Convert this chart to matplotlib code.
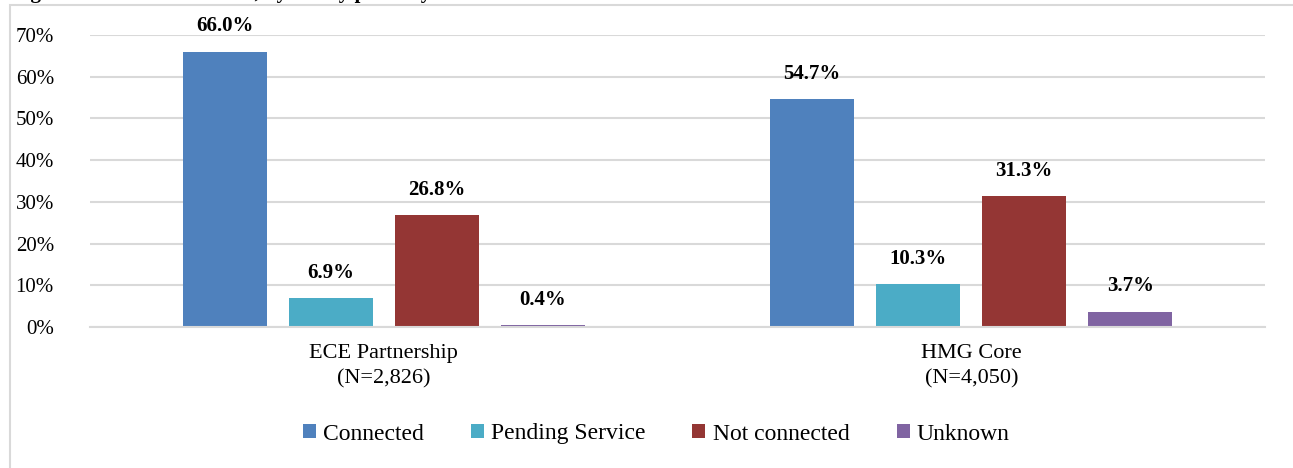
import matplotlib
matplotlib.use("Agg")
import matplotlib.pyplot as plt
import numpy as np
from matplotlib.patches import Rectangle
from matplotlib.ticker import PercentFormatter

plt.rcParams["font.family"] = ["Liberation Serif", "DejaVu Serif"]

groups = ["ECE Partnership\n(N=2,826)", "HMG Core\n(N=4,050)"]
series = ["Connected", "Pending Service", "Not connected", "Unknown"]
connected = [66.0, 54.7]
pending = [6.9, 10.3]
not_connected = [26.8, 31.3]
unknown = [0.4, 3.7]
colors = ["#4f81bd", "#4bacc6", "#943634", "#8064a2"]

values = [connected, pending, not_connected, unknown]

fig = plt.figure(figsize=(12.93, 4.68), dpi=100)
# outer chart frame (partly outside the picture)
fig.patches.append(Rectangle((10 / 1293, -0.05), 1.2, (468 - 5) / 468 + 0.05,
                             transform=fig.transFigure, fill=False,
                             edgecolor="#d9d9d9", lw=1.5))
# cut-off title above the frame
fig.text(12 / 1293, 1.0 + 2 / 468, "Figure 7: Referral outcome, by family pathway",
         fontsize=15, fontweight="bold", va="baseline", ha="left")

ax = fig.add_axes([90 / 1293, 1 - 327 / 468, (1265 - 90) / 1293, (327 - 35) / 468])

x = np.arange(len(groups))
width = 0.143
step = 0.1805
for i, (name, vals, c) in enumerate(zip(series, values, colors)):
    pos = x + (i - 1.5) * step
    bars = ax.bar(pos, vals, width, color=c, label=name, zorder=2)
    for b, v in zip(bars, vals):
        ax.annotate(f"{v:.1f}%", (b.get_x() + b.get_width() / 2, v),
                    xytext=(0, 11), textcoords="offset points",
                    ha="center", va="bottom", fontsize=15, fontweight="bold")

ax.set_xlim(-0.5, 1.5)
ax.set_ylim(0, 70)
ax.set_yticks(np.arange(0, 71, 10))
ax.yaxis.set_major_formatter(PercentFormatter(decimals=0))
ax.grid(axis="y", color="#d9d9d9", lw=1.5, zorder=0)
ax.set_xticks(x)
ax.set_xticklabels(groups, fontsize=16, linespacing=1.45)
ax.tick_params(axis="both", length=0)
ax.tick_params(axis="y", pad=26, labelsize=15)
ax.tick_params(axis="x", pad=12)
for s in ["top", "right", "left"]:
    ax.spines[s].set_visible(False)
ax.spines["bottom"].set_color("#d9d9d9")
ax.spines["bottom"].set_linewidth(1.5)

fig.legend(loc="center", bbox_to_anchor=(656 / 1293, 1 - 434 / 468), ncol=4,
           frameon=False, fontsize=17, handlelength=0.55, handleheight=0.55,
           handletextpad=0.3, columnspacing=2.0)

fig.savefig("out.png", dpi=100)
